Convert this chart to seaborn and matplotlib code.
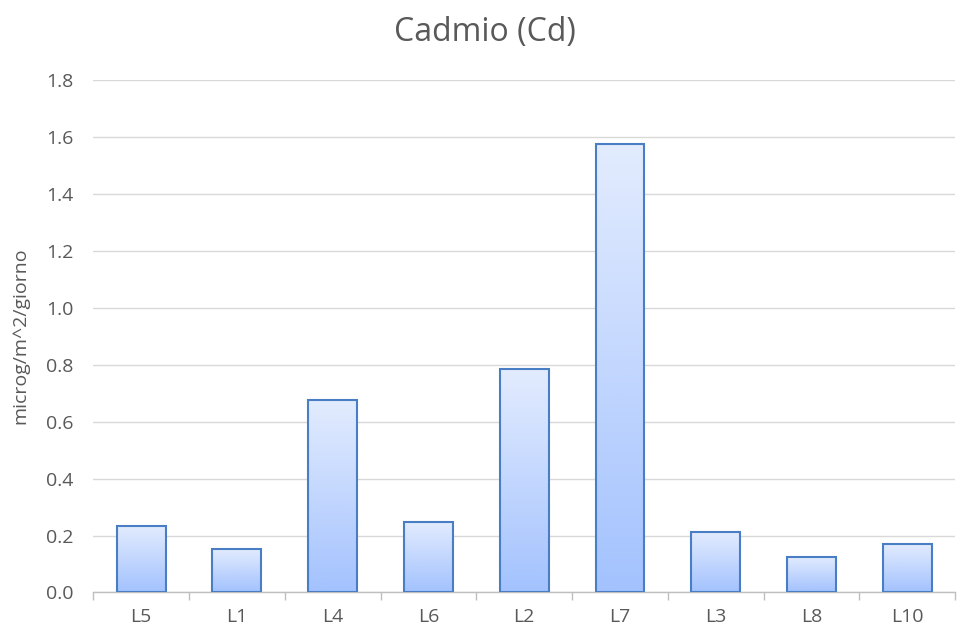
import numpy as np
import pandas as pd
import matplotlib
matplotlib.use('Agg')
import matplotlib.pyplot as plt
import seaborn as sns
from matplotlib.colors import LinearSegmentedColormap

# Dati
stazioni = ['L5', 'L1', 'L4', 'L6', 'L2', 'L7', 'L3', 'L8', 'L10']
cadmio = [0.235, 0.151, 0.675, 0.246, 0.784, 1.575, 0.211, 0.123, 0.169]

df = pd.DataFrame({'stazione': stazioni, 'valore': cadmio})

sns.set_theme(style="white")
plt.rcParams['font.family'] = ['Open Sans', 'DejaVu Sans']
grigio = '#595959'

fig, ax = plt.subplots(figsize=(9.61, 6.33), dpi=100)
fig.subplots_adjust(left=0.097, right=0.994, top=0.874, bottom=0.064)

sns.barplot(data=df, x='stazione', y='valore', width=0.51,
            facecolor='none', edgecolor='#4a7ec4', linewidth=1.5, ax=ax, zorder=3)

# gradiente dentro ogni barra
cmap = LinearSegmentedColormap.from_list('grad', ['#a3c2fe', '#e3ecfe'])
grad = np.linspace(0, 1, 256).reshape(-1, 1)
for p in ax.patches:
    x0, y0 = p.get_x(), p.get_y()
    w, h = p.get_width(), p.get_height()
    im = ax.imshow(grad, cmap=cmap, origin='lower', aspect='auto',
                   extent=[x0, x0 + w, y0, y0 + h], zorder=2)
    im.set_clip_path(p)

ax.set_xlim(-0.5, len(stazioni) - 0.5)
ax.set_ylim(0, 1.8)
ax.set_yticks(np.arange(0, 1.81, 0.2))
ax.set_yticklabels([f'{v:.1f}' for v in np.arange(0, 1.81, 0.2)])
ax.yaxis.grid(True, color='#d9d9d9', linewidth=1)
ax.set_axisbelow(True)

for s in ['top', 'right', 'left']:
    ax.spines[s].set_visible(False)
ax.spines['bottom'].set_color('#bfbfbf')
ax.spines['bottom'].set_linewidth(1)

# tacche tra le categorie
ax.set_xticks(np.arange(-0.5, len(stazioni), 1), minor=True)
ax.tick_params(axis='x', which='minor', length=6, color='#bfbfbf', width=1, bottom=True)
ax.tick_params(axis='x', which='major', length=0, pad=11, labelsize=14, labelcolor=grigio)
ax.tick_params(axis='y', length=0, pad=14, labelsize=14, labelcolor=grigio)

ax.set_xlabel('')
ax.set_ylabel('microg/m^2/giorno', fontsize=14, color=grigio, labelpad=12)
fig.suptitle('Cadmio (Cd)', fontsize=23, color=grigio, x=0.505, y=0.975)

fig.savefig('out.png', dpi=100)
